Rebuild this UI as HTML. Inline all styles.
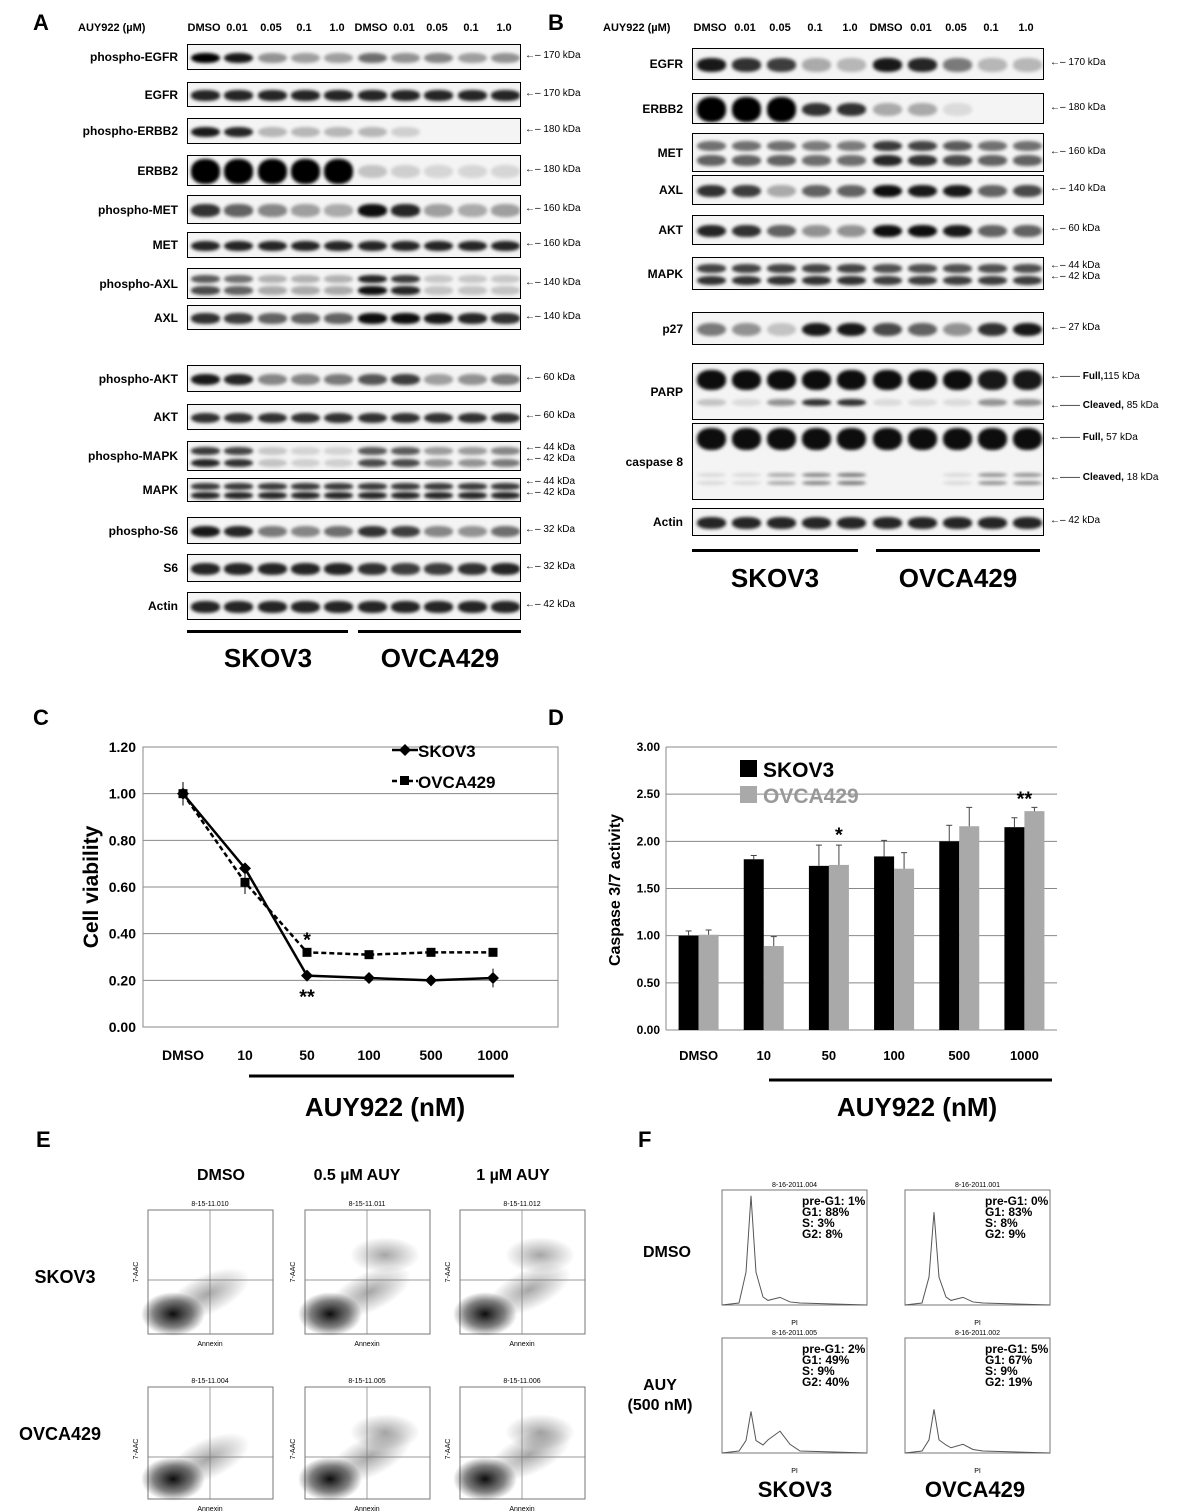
<!DOCTYPE html>
<html><head><meta charset="utf-8">
<style>
body{margin:0;background:#fff;width:1200px;height:1512px;position:relative;overflow:hidden;font-family:"Liberation Sans",Arial,sans-serif;}
.t{position:absolute;white-space:nowrap;font-weight:bold;color:#000;}
.box{position:absolute;border:1.5px solid #000;background:#f4f4f4;overflow:hidden;box-sizing:border-box;}
.band{position:absolute;border-radius:45%;filter:blur(1.6px);}
.kda{position:absolute;font-size:10px;white-space:nowrap;}
.hl{position:absolute;height:3px;background:#000;}
</style></head><body>
<div id="root"></div>
<script>
// ---------- Western blot data ----------
const laneLabels=["DMSO","0.01","0.05","0.1","1.0","DMSO","0.01","0.05","0.1","1.0"];
const blotsA=[
["phospho-EGFR",44,70,[1,.9,.4,.35,.35,.55,.4,.45,.35,.4],"170 kDa",1],
["EGFR",82,107,[.85,.85,.85,.85,.85,.85,.85,.85,.85,.85],"170 kDa",1],
["phospho-ERBB2",118,144,[.9,.85,.25,.25,.25,.25,.15,0,0,0],"180 kDa",1],
["ERBB2",155,186,[1,1,1,1,1,.2,.15,.12,.12,.12],"180 kDa",1],
["phospho-MET",195,224,[.8,.6,.45,.35,.3,.95,.85,.35,.3,.35],"160 kDa",1],
["MET",232,258,[.85,.85,.85,.85,.85,.85,.85,.85,.85,.85],"160 kDa",1],
["phospho-AXL",268,299,[.7,.6,.3,.3,.3,.95,.85,.2,.2,.2],"140 kDa",2],
["AXL",305,330,[.8,.75,.6,.6,.6,.95,.95,.9,.85,.8],"140 kDa",1],
["phospho-AKT",365,392,[.9,.85,.45,.45,.5,.65,.75,.35,.4,.5],"60 kDa",1],
["AKT",404,430,[.8,.8,.8,.8,.8,.8,.8,.8,.8,.8],"60 kDa",1],
["phospho-MAPK",441,471,[.85,.8,.2,.15,.15,.7,.7,.4,.4,.5],"44/42",2],
["MAPK",478,502,[.85,.85,.85,.85,.85,.85,.85,.85,.85,.85],"44/42",2],
["phospho-S6",517,544,[.9,.85,.5,.45,.55,.8,.75,.45,.4,.55],"32 kDa",1],
["S6",554,582,[.85,.85,.85,.85,.85,.8,.75,.75,.8,.85],"32 kDa",1],
["Actin",592,620,[.85,.85,.85,.85,.85,.85,.85,.85,.85,.85],"42 kDa",1]];
const blotsB=[
["EGFR",48,80,[.9,.8,.75,.3,.25,.9,.85,.5,.25,.25],"170 kDa",1],
["ERBB2",93,124,[1,1,1,.8,.8,.3,.3,.1,0,0],"180 kDa",1],
["MET",133,172,[.6,.6,.6,.55,.55,.85,.8,.7,.6,.6],"160 kDa",2],
["AXL",175,205,[.8,.75,.3,.6,.6,.95,.9,.9,.6,.7],"140 kDa",1],
["AKT",215,245,[.85,.8,.6,.4,.4,.95,.95,.9,.6,.6],"60 kDa",1],
["MAPK",257,290,[.8,.8,.8,.8,.8,.75,.75,.75,.75,.75],"44/42",2],
["p27",312,345,[.5,.4,.2,.9,.9,.7,.6,.4,.8,.9],"27 kDa",1],
["PARP",363,420,[.95,.95,.95,.95,.95,.95,.95,.95,.9,.9],"PARP",1],
["caspase 8",423,500,[.95,.95,.95,.95,.95,.95,.95,.95,.95,.95],"CASP",1],
["Actin",508,536,[.85,.85,.85,.85,.85,.85,.85,.85,.85,.85],"42 kDa",1]];
const parpCleaved=[.2,.1,.4,.8,.8,.1,.1,.1,.4,.4];
const caspCleaved=[.1,.1,.3,.45,.5,0,0,.1,.4,.4];

const root=document.getElementById('root');
function el(tag,cls,style,txt,name,inter){const e=document.createElement(tag);if(cls)e.className=cls;if(style)e.style.cssText=style;if(txt!=null)e.innerHTML=txt;


root.appendChild(e);return e;}
function band(parent,x,y,w,h,a){const b=document.createElement('div');b.className='band';b.style.cssText=`left:${x}px;top:${y}px;width:${w}px;height:${h}px;background:rgba(0,0,0,${a});`;


parent.appendChild(b);}

function drawBlots(blots,x0,x1,labelRight,kx,lanes,prefix){
 blots.forEach(b=>{
  const [name,y0,y1,vals,kd,n]=b;
  const box=el('div','box',`left:${x0}px;top:${y0}px;width:${x1-x0}px;height:${y1-y0}px;`,null,prefix+'-blot-'+name.replace(/\s+/g,'-').toLowerCase(),false);
  const h=y1-y0;
  vals.forEach((v,i)=>{
   const cx=lanes[i]-x0;const bw=29;
   if(kd==="PARP"){band(box,cx-bw/2,6,bw,20,v);band(box,cx-bw/2,h-22,bw,7,parpCleaved[i]);}
   else if(kd==="CASP"){band(box,cx-bw/2,4,bw,22,v);band(box,cx-bw/2,h-28,bw,4,caspCleaved[i]);band(box,cx-bw/2,h-20,bw,4,caspCleaved[i]);}
   else if(n===2){band(box,cx-bw/2,h*0.18,bw,h*0.26,v*0.9);band(box,cx-bw/2,h*0.55,bw,h*0.28,v);}
   else {const bh=name==="ERBB2"&&v>.9?h*0.8:h*0.42;band(box,cx-bw/2,(h-bh)/2,bw,bh,v);}
  });
  el('div','t',`left:${labelRight-150}px;width:150px;text-align:right;top:${(y0+y1)/2-7}px;font-size:12px;`,name,prefix+'-label-'+name.replace(/\s+/g,'-').toLowerCase(),false);
  const ym=(y0+y1)/2;
  if(kd==="44/42"){el('div','kda',`left:${kx}px;top:${ym-14}px;`,"&larr;&ndash; 44 kDa",'kda-label',false);el('div','kda',`left:${kx}px;top:${ym-3}px;`,"&larr;&ndash; 42 kDa",'kda-label',false);}
  else if(kd==="PARP"){el('div','kda',`left:${kx}px;top:${y0+8}px;`,"&larr;&mdash;&mdash; <b>Full,</b>115 kDa",'kda-label',false);el('div','kda',`left:${kx}px;top:${y1-20}px;`,"&larr;&mdash;&mdash; <b>Cleaved,</b> 85 kDa",'kda-label',false);}
  else if(kd==="CASP"){el('div','kda',`left:${kx}px;top:${y0+9}px;`,"&larr;&mdash;&mdash; <b>Full,</b> 57 kDa",'kda-label',false);el('div','kda',`left:${kx}px;top:${y1-28}px;`,"&larr;&mdash;&mdash; <b>Cleaved,</b> 18 kDa",'kda-label',false);}
  else el('div','kda',`left:${kx}px;top:${ym-7}px;`,"&larr;&ndash; "+kd,'kda-label',false);
 });
}
const lanesA=[204,237,271,304,337,371,404,437,471,504];
const lanesB=[710,745,780,815,850,886,921,956,991,1026];
el('div','t','left:33px;top:10px;font-size:22px;','A','panel-a-letter',false);
el('div','t','left:78px;top:22px;font-size:11px;','AUY922 (&micro;M)','panel-a-dose-title',false);
laneLabels.forEach((l,i)=>el('div','t',`left:${lanesA[i]-20}px;width:40px;text-align:center;top:22px;font-size:11px;`,l,'panel-a-lane-label',false));
drawBlots(blotsA,187,521,178,525,lanesA,'a');
el('div','hl','left:187px;top:630px;width:161px;',null,'skov3-bracket-a',false);
el('div','hl','left:358px;top:630px;width:163px;',null,'ovca429-bracket-a',false);
el('div','t','left:218px;top:643px;font-size:26px;width:100px;text-align:center;','SKOV3','skov3-label-a',false);
el('div','t','left:375px;top:643px;font-size:26px;width:130px;text-align:center;','OVCA429','ovca429-label-a',false);

el('div','t','left:548px;top:10px;font-size:22px;','B','panel-b-letter',false);
el('div','t','left:603px;top:22px;font-size:11px;','AUY922 (&micro;M)','panel-b-dose-title',false);
laneLabels.forEach((l,i)=>el('div','t',`left:${lanesB[i]-20}px;width:40px;text-align:center;top:22px;font-size:11px;`,l,'panel-b-lane-label',false));
drawBlots(blotsB,692,1044,683,1050,lanesB,'b');
el('div','hl','left:692px;top:549px;width:166px;',null,'skov3-bracket-b',false);
el('div','hl','left:876px;top:549px;width:164px;',null,'ovca429-bracket-b',false);
el('div','t','left:725px;top:563px;font-size:26px;width:100px;text-align:center;','SKOV3','skov3-label-b',false);
el('div','t','left:893px;top:563px;font-size:26px;width:130px;text-align:center;','OVCA429','ovca429-label-b',false);
el('div','t','left:33px;top:705px;font-size:22px;','C','panel-c-letter',false);
el('div','t','left:548px;top:705px;font-size:22px;','D','panel-d-letter',false);
el('div','t','left:36px;top:1127px;font-size:22px;','E','panel-e-letter',false);
el('div','t','left:638px;top:1127px;font-size:22px;','F','panel-f-letter',false);
</script>

<svg id="charts" width="1200" height="1512" style="position:absolute;left:0;top:0;" font-family="Liberation Sans, Arial, sans-serif"></svg>
<script>
// ---------- Panel C data ----------
const catsC=["DMSO","10","50","100","500","1000"];
const skov3C=[1.00,0.68,0.22,0.21,0.20,0.21];
const skov3CErr=[0.05,0.02,0.01,0.01,0.01,0.04];
const ovcaC=[1.00,0.62,0.32,0.31,0.32,0.32];
const ovcaCErr=[0.05,0.05,0.01,0.01,0.01,0.01];
const ticksC=["0.00","0.20","0.40","0.60","0.80","1.00","1.20"];
// ---------- Panel D data ----------
const catsD=["DMSO","10","50","100","500","1000"];
const skov3D=[1.00,1.81,1.74,1.84,2.00,2.15];
const skov3DErr=[0.05,0.04,0.22,0.17,0.17,0.10];
const ovcaD=[1.01,0.89,1.75,1.71,2.16,2.32];
const ovcaDErr=[0.05,0.10,0.21,0.17,0.20,0.04];
const ticksD=["0.00","0.50","1.00","1.50","2.00","2.50","3.00"];

const svg=document.getElementById('charts');const NS="http://www.w3.org/2000/svg";
function S(tag,attrs,name,txt){const e=document.createElementNS(NS,tag);for(const k in attrs)e.setAttribute(k,attrs[k]);


if(txt!=null)e.textContent=txt;svg.appendChild(e);return e;}

// Panel C axes
const cX0=143,cX1=558,cY0=1027,cY1=747,cMax=1.2;
const xC=i=>183+i*62, yC=v=>cY0-(v/cMax)*(cY0-cY1);
ticksC.forEach(t=>{const v=parseFloat(t);S('line',{x1:cX0,x2:cX1,y1:yC(v),y2:yC(v),stroke:'#888','stroke-width':1},'c-gridline');
S('text',{x:cX0-7,y:yC(v)+5,'text-anchor':'end','font-size':14,'font-weight':'bold'},'c-y-tick',t);});
S('line',{x1:cX0,x2:cX0,y1:cY0,y2:cY1,stroke:'#888'},'c-y-axis');
S('rect',{x:cX0,y:cY1,width:cX1-cX0,height:cY0-cY1,fill:'none',stroke:'#888'},'c-plot-frame');
catsC.forEach((c,i)=>S('text',{x:xC(i),y:1060,'text-anchor':'middle','font-size':14,'font-weight':'bold'},'c-x-tick',c));
S('text',{x:0,y:0,transform:'translate(98,887) rotate(-90)','text-anchor':'middle','font-size':21,'font-weight':'bold'},'c-y-axis-title','Cell viability');
S('line',{x1:249,x2:514,y1:1076,y2:1076,stroke:'#000','stroke-width':3},'c-dose-bracket');
S('text',{x:385,y:1116,'text-anchor':'middle','font-size':26,'font-weight':'bold'},'c-x-axis-title','AUY922 (nM)');
function series(vals,errs,dash,marker,name){
 S('polyline',{points:vals.map((v,i)=>xC(i)+','+yC(v)).join(' '),fill:'none',stroke:'#000','stroke-width':2.5,'stroke-dasharray':dash},name+'-line');
 vals.forEach((v,i)=>{S('line',{x1:xC(i),x2:xC(i),y1:yC(v+errs[i]),y2:yC(v-errs[i]),stroke:'#000'},name+'-errorbar');
  if(marker==='d')S('polygon',{points:`${xC(i)},${yC(v)-6} ${xC(i)+6},${yC(v)} ${xC(i)},${yC(v)+6} ${xC(i)-6},${yC(v)}`,fill:'#000'},name+'-point');
  else S('rect',{x:xC(i)-4.5,y:yC(v)-4.5,width:9,height:9,fill:'#000'},name+'-point');});
}
series(ovcaC,ovcaCErr,'5,3','s','ovca429');
series(skov3C,skov3CErr,'','d','skov3');
S('text',{x:xC(2),y:yC(ovcaC[2])-6,'text-anchor':'middle','font-size':20,'font-weight':'bold'},'c-sig-star','*');
S('text',{x:xC(2),y:yC(skov3C[2])+28,'text-anchor':'middle','font-size':20,'font-weight':'bold'},'c-sig-star','**');
S('line',{x1:392,x2:418,y1:750,y2:750,stroke:'#000','stroke-width':2.5},'legend-skov3-line');
S('polygon',{points:'405,744 411,750 405,756 399,750',fill:'#000'},'legend-skov3-marker');
S('text',{x:418,y:757,'font-size':17,'font-weight':'bold'},'legend-skov3-label','SKOV3');
S('line',{x1:392,x2:418,y1:781,y2:781,stroke:'#000','stroke-width':2.5,'stroke-dasharray':'5,3'},'legend-ovca-line');
S('rect',{x:400,y:776,width:9,height:9,fill:'#000'},'legend-ovca-marker');
S('text',{x:418,y:788,'font-size':17,'font-weight':'bold'},'legend-ovca-label','OVCA429');

// Panel D
const dX0=666,dX1=1057,dY0=1030,dY1=747,dMax=3,gw=(dX1-dX0)/6;
const yD=v=>dY0-(v/dMax)*(dY0-dY1), xD=i=>dX0+gw*(i+0.5);
ticksD.forEach(t=>{const v=parseFloat(t);S('line',{x1:dX0,x2:dX1,y1:yD(v),y2:yD(v),stroke:'#888'},'d-gridline');
S('text',{x:dX0-6,y:yD(v)+4,'text-anchor':'end','font-size':12,'font-weight':'bold'},'d-y-tick',t);});
S('line',{x1:dX0,x2:dX0,y1:dY0,y2:dY1,stroke:'#888'},'d-y-axis');
catsD.forEach((c,i)=>S('text',{x:xD(i),y:1060,'text-anchor':'middle','font-size':13,'font-weight':'bold'},'d-x-tick',c));
const bw=20;
skov3D.forEach((v,i)=>{S('rect',{x:xD(i)-bw,y:yD(v),width:bw,height:yD(0)-yD(v),fill:'#000'},'d-bar-skov3');
 S('line',{x1:xD(i)-bw/2,x2:xD(i)-bw/2,y1:yD(v+skov3DErr[i]),y2:yD(v),stroke:'#444'},'d-err-skov3');
 S('line',{x1:xD(i)-bw/2-3,x2:xD(i)-bw/2+3,y1:yD(v+skov3DErr[i]),y2:yD(v+skov3DErr[i]),stroke:'#444'},'d-err-cap');});
ovcaD.forEach((v,i)=>{S('rect',{x:xD(i),y:yD(v),width:bw,height:yD(0)-yD(v),fill:'#a9a9a9'},'d-bar-ovca429');
 S('line',{x1:xD(i)+bw/2,x2:xD(i)+bw/2,y1:yD(v+ovcaDErr[i]),y2:yD(v),stroke:'#444'},'d-err-ovca429');
 S('line',{x1:xD(i)+bw/2-3,x2:xD(i)+bw/2+3,y1:yD(v+ovcaDErr[i]),y2:yD(v+ovcaDErr[i]),stroke:'#444'},'d-err-cap');});
S('text',{x:xD(2)+bw/2,y:yD(2.0),'text-anchor':'middle','font-size':20,'font-weight':'bold'},'d-sig-star','*');
S('text',{x:xD(5),y:yD(2.38),'text-anchor':'middle','font-size':20,'font-weight':'bold'},'d-sig-star','**');
S('text',{x:0,y:0,transform:'translate(620,890) rotate(-90)','text-anchor':'middle','font-size':16,'font-weight':'bold'},'d-y-axis-title','Caspase 3/7 activity');
S('rect',{x:740,y:760,width:17,height:17,fill:'#000'},'legend-d-skov3-swatch');
S('text',{x:763,y:777,'font-size':21,'font-weight':'bold'},'legend-d-skov3-label','SKOV3');
S('rect',{x:740,y:786,width:17,height:17,fill:'#a9a9a9'},'legend-d-ovca-swatch');
S('text',{x:763,y:803,'font-size':21,'font-weight':'bold','fill':'#999'},'legend-d-ovca-label','OVCA429');
S('line',{x1:769,x2:1052,y1:1080,y2:1080,stroke:'#000','stroke-width':3},'d-dose-bracket');
S('text',{x:917,y:1116,'text-anchor':'middle','font-size':26,'font-weight':'bold'},'d-x-axis-title','AUY922 (nM)');

// Panel E flow plots (decorative density)
const ePX=[148,305,460], ePY=[1210,1387], eN=[["8-15-11.010","8-15-11.011","8-15-11.012"],["8-15-11.004","8-15-11.005","8-15-11.006"]];
const defs=S('defs',{},'defs');
defs.innerHTML='<radialGradient id="blob"><stop offset="0" stop-color="#000" stop-opacity=".95"/><stop offset=".6" stop-color="#000" stop-opacity=".5"/><stop offset="1" stop-color="#000" stop-opacity="0"/></radialGradient><radialGradient id="haze"><stop offset="0" stop-color="#000" stop-opacity=".35"/><stop offset="1" stop-color="#000" stop-opacity="0"/></radialGradient>';
ePY.forEach((py,r)=>ePX.forEach((px,c)=>{
 const s=r===0?124:112;
 S('rect',{x:px,y:py,width:125,height:s,fill:'#fff',stroke:'#777'},'flow-plot-frame');
 S('ellipse',{cx:px+25,cy:py+s-20,rx:32,ry:22,fill:'url(#blob)'},'flow-live-cluster');
 S('ellipse',{cx:px+60+c*5,cy:py+s-40,rx:45,ry:20,fill:'url(#haze)',transform:`rotate(-25 ${px+60} ${py+s-40})`},'flow-apoptotic-cluster');
 if(c>0)S('ellipse',{cx:px+80,cy:py+45,rx:35,ry:18,fill:'url(#haze)'},'flow-late-cluster');
 S('line',{x1:px+62,x2:px+62,y1:py,y2:py+s,stroke:'#777','stroke-width':.7},'flow-quadrant-v');
 S('line',{x1:px,x2:px+125,y1:py+70,y2:py+70,stroke:'#777','stroke-width':.7},'flow-quadrant-h');
 S('text',{x:px+62,y:py-4,'text-anchor':'middle','font-size':7},'flow-plot-id',eN[r][c]);
 S('text',{x:px+62,y:py+s+12,'text-anchor':'middle','font-size':7},'flow-x-title','Annexin');
 S('text',{x:0,y:0,transform:`translate(${px-10},${py+62}) rotate(-90)`,'text-anchor':'middle','font-size':7},'flow-y-title','7-AAC');
}));
[["DMSO",221],["0.5 \u00b5M AUY",357],["1 \u00b5M AUY",513]].forEach(a=>S('text',{x:a[1],y:1180,'text-anchor':'middle','font-size':16,'font-weight':'bold'},'e-column-header',a[0]));
S('text',{x:65,y:1283,'text-anchor':'middle','font-size':18,'font-weight':'bold'},'e-row-label-skov3','SKOV3');
S('text',{x:60,y:1440,'text-anchor':'middle','font-size':18,'font-weight':'bold'},'e-row-label-ovca429','OVCA429');

// Panel F histograms
const fPX=[722,905], fPY=[1190,1338];
const fIds=[["8-16-2011.004","8-16-2011.001"],["8-16-2011.005","8-16-2011.002"]];
const fStats=[[["pre-G1: 1%","G1: 88%","S: 3%","G2: 8%"],["pre-G1: 0%","G1: 83%","S: 8%","G2: 9%"]],[["pre-G1: 2%","G1: 49%","S: 9%","G2: 40%"],["pre-G1: 5%","G1: 67%","S: 9%","G2: 19%"]]];
const fPeak=[[1.0,0.85],[0.38,0.4]], fG2=[[0.07,0.07],[0.2,0.08]];
fPY.forEach((py,r)=>fPX.forEach((px,c)=>{
 const w=145,h=115,b=py+h;
 S('rect',{x:px,y:py,width:w,height:h,fill:'#fff',stroke:'#777'},'histogram-frame');
 const pk=fPeak[r][c]*h*0.95,g2=fG2[r][c]*h*0.95,x2=px+w*0.2,x4=px+w*0.4;
 S('path',{d:`M${px} ${b} L${x2-12} ${b-2} L${x2-5} ${b-pk*0.3} L${x2} ${b-pk} L${x2+5} ${b-pk*0.3} L${x2+12} ${b-8} L${x4-12} ${b-g2*0.6} L${x4} ${b-g2} L${x4+10} ${b-g2*0.4} L${x4+20} ${b-2} L${px+w} ${b}`,fill:'none',stroke:'#555','stroke-width':1},'histogram-trace');
 S('text',{x:px+w/2,y:py-3,'text-anchor':'middle','font-size':7},'histogram-id',fIds[r][c]);
 S('text',{x:px+w/2,y:b+20,'text-anchor':'middle','font-size':7},'histogram-x-title','PI');
 fStats[r][c].forEach((s,k)=>S('text',{x:px+80,y:py+15+k*11,'font-size':12,'font-weight':'bold'},'histogram-stat',s));
}));
S('text',{x:667,y:1257,'text-anchor':'middle','font-size':16,'font-weight':'bold'},'f-row-label-dmso','DMSO');
S('text',{x:660,y:1390,'text-anchor':'middle','font-size':16,'font-weight':'bold'},'f-row-label-auy','AUY');
S('text',{x:660,y:1410,'text-anchor':'middle','font-size':16,'font-weight':'bold'},'f-row-label-auy-dose','(500 nM)');
S('text',{x:795,y:1497,'text-anchor':'middle','font-size':22,'font-weight':'bold'},'f-col-label-skov3','SKOV3');
S('text',{x:975,y:1497,'text-anchor':'middle','font-size':22,'font-weight':'bold'},'f-col-label-ovca429','OVCA429');
</script>
</body></html>
